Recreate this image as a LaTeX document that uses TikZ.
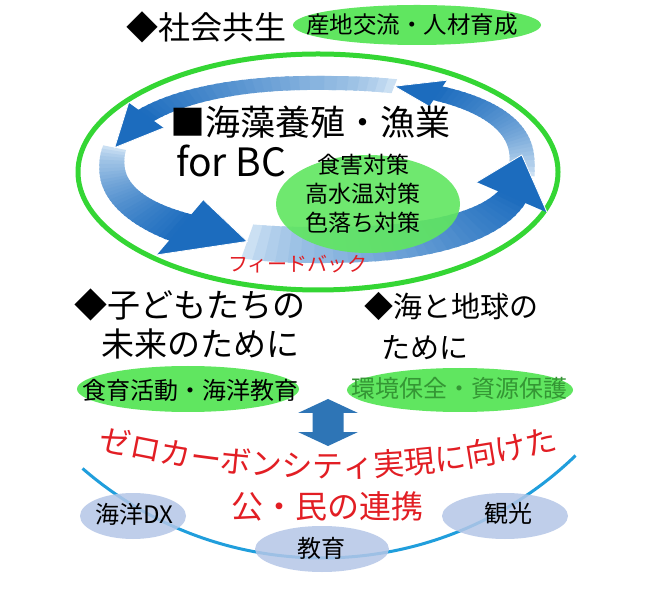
\documentclass[tikz,border=0pt]{standalone}
\usepackage{fontspec}
\setmainfont{Noto Sans CJK JP}
\usetikzlibrary{decorations.text}
\definecolor{arrdark}{RGB}{28,108,190}
\definecolor{arrlight}{RGB}{218,234,248}
\definecolor{ringgreen}{RGB}{52,214,52}
\definecolor{fillgreen}{RGB}{96,230,96}
\definecolor{txtgreen}{RGB}{52,150,52}
\definecolor{zred}{RGB}{226,30,36}
\definecolor{dblue}{RGB}{46,117,182}
\definecolor{arcblue}{RGB}{32,158,220}
\definecolor{pale}{RGB}{180,198,231}
\newcommand\cbody[2]{%
  \foreach \i in {0,...,29}{%
    \pgfmathsetmacro\pa{#1+(#2-#1)*\i/30}%
    \pgfmathsetmacro\pb{#1+(#2-#1)*(\i+1.4)/30}%
    \pgfmathtruncatemacro\pc{min(100,100*pow((\i+0.5)/30,0.6))}%
    \fill[arrdark!\pc!arrlight]
      ({px(\pa,205+ww(\pa))},{py(\pa,81+ww(\pa))}) --
      ({px(\pb,205+ww(\pb))},{py(\pb,81+ww(\pb))}) --
      ({px(\pb,205-ww(\pb))},{py(\pb,81-ww(\pb))}) --
      ({px(\pa,205-ww(\pa))},{py(\pa,81-ww(\pa))}) -- cycle;
  }}
\newcommand\chead[3]{%
  \fill[arrdark] ({px(#1,205+#3)},{py(#1,81+#3)}) -- ({px(#2,205)},{py(#2,81)}) -- ({px(#1,205-#3)},{py(#1,81-#3)}) -- cycle;
  \draw[white, line width=0.8pt, line join=miter] ({px(#1,205+#3)},{py(#1,81+#3)}) -- ({px(#2,205)},{py(#2,81)}) -- ({px(#1,205-#3)},{py(#1,81-#3)});}
\begin{document}
\begin{tikzpicture}[x=1pt,y=1pt,
  declare function={
    sg(\a)=ifthenelse(\a<0,-1,1);
    ee(\a)=ifthenelse(cos(\a)<0,0.92,0.833);
    px(\a,\r)=\r*sg(cos(\a))*pow(abs(cos(\a))+0.001,ee(\a));
    py(\a,\r)=\r*sg(sin(\a))*pow(abs(sin(\a))+0.001,ee(\a));
    ww(\a)=12.5-5.5*sin(\a);
  },
  lbl/.style={inner sep=0pt, outer sep=0pt, text=black},
  redlbl/.style={inner sep=0pt, outer sep=0pt, text=zred}]
\useasboundingbox (0,0) rectangle (655,597);
\fill[white] (0,0) rectangle (655,597);
% top heading
\node[lbl, font=\fontsize{32}{32}\selectfont] (social) at (206,570) {◆社会共生};
\fill[fillgreen] (417,572) ellipse [x radius=124, y radius=20];
\node[lbl, font=\fontsize{23.5}{23.5}\selectfont] (exchange) at (412,572) {産地交流・人材育成};
% big ring
\draw[ringgreen, line width=5pt] (318,425) ellipse [x radius=240, y radius=118];
% circular arrows
\begin{scope}[shift={(317,433)}]
  \cbody{-5}{58}
  \cbody{72}{145}
  \cbody{170}{230}
  \cbody{252}{340}
  \chead{58}{72}{15}
  \chead{145}{170}{21}
  \chead{230}{252}{35}
  \chead{340}{364}{37}
\end{scope}
% inner green ellipse
\fill[fillgreen, fill opacity=0.9] (368,393) ellipse [x radius=92, y radius=49];
\node[lbl, font=\fontsize{35}{35}\selectfont] (title) at (310,475) {■海藻養殖・漁業};
\node[lbl, font=\fontsize{39}{39}\selectfont, anchor=base west] (forbc) at (176,420) {for BC};
\node[lbl, font=\fontsize{23}{29}\selectfont, align=center] (measures) at (363,403) {食害対策\\高水温対策\\色落ち対策};
\node[redlbl, font=\fontsize{20}{20}\selectfont] (feedback) at (298,333) {フィードバック};
% middle headings
\node[lbl, font=\fontsize{33}{33}\selectfont] (kids1) at (189.5,292) {◆子どもたちの};
\node[lbl, font=\fontsize{33}{33}\selectfont] (kids2) at (200,253) {未来のために};
\node[lbl, font=\fontsize{29}{29}\selectfont] (earth1) at (451.5,291) {◆海と地球の};
\node[lbl, font=\fontsize{29}{29}\selectfont] (earth2) at (424.5,249.5) {ために};
\fill[fillgreen] (188,208) ellipse [x radius=111, y radius=23];
\node[lbl, font=\fontsize{24}{24}\selectfont] (food) at (190,207) {食育活動・海洋教育};
\fill[fillgreen] (460,207) ellipse [x radius=113, y radius=22];
\node[inner sep=0pt, text=txtgreen, font=\fontsize{24}{24}\selectfont] (env) at (459.5,209) {環境保全・資源保護};
% double arrow
\fill[dblue] (328,198) -- (358,184) -- (343.5,184) -- (343.5,165) -- (358,165) -- (328,151) -- (298,165) -- (312.5,165) -- (312.5,184) -- (298,184) -- cycle;
% bottom arc
\draw[arcblue, line width=3pt] (322,404) ++(229:365) arc[start angle=229, end angle=314, radius=365];
% red curved text
\path[decorate, decoration={text along path, text align=center, text color=zred,
  text={|\fontsize{31}{31}\selectfont|ゼロカーボンシティ実現に向けた}}]
  (328,1069) ++(254:950) arc[start angle=254, end angle=286, radius=950];
\node[redlbl, font=\fontsize{32}{32}\selectfont] (public) at (327,91) {公・民の連携};
% bottom ellipses
\fill[pale, fill opacity=0.85] (133,81) ellipse [x radius=53, y radius=23];
\fill[pale, fill opacity=0.85] (322,48) ellipse [x radius=67, y radius=23];
\fill[pale, fill opacity=0.85] (505,81) ellipse [x radius=63, y radius=23];
\node[lbl, font=\fontsize{24}{24}\selectfont] (dx) at (134,83) {海洋DX};
\node[lbl, font=\fontsize{24}{24}\selectfont] (edu) at (321,49) {教育};
\node[lbl, font=\fontsize{24}{24}\selectfont] (tour) at (508,84) {観光};
\end{tikzpicture}
\end{document}
